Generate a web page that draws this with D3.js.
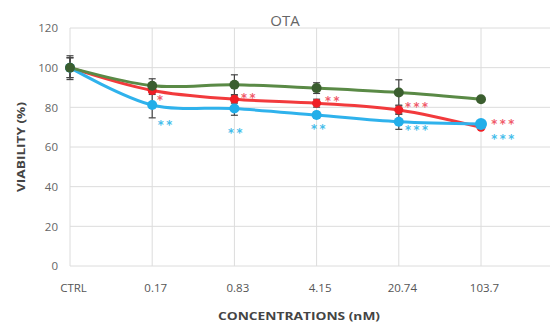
<!DOCTYPE html>
<html>
<head>
<meta charset="utf-8">
<script src="https://cdn.jsdelivr.net/npm/d3@7"></script>
<style>
    html, body { margin: 0; padding: 0; background: #fff; }
    svg { display: block; }
</style>
</head>
<body>
<div id="chart"></div>
<script>
// OTA viability chart
const categories = ['CTRL', '0.17', '0.83', '4.15', '20.74', '103.7'];
const yTicks = [0, 20, 40, 60, 80, 100, 120];

const greenValues = [100, 90.9, 91.4, 89.7, 87.5, 84.1];
const redValues = [100, 88.5, 84.1, 82.1, 78.7, 69.9];
const blueValues = [100, 81.2, 79.4, 76.1, 72.7, 71.6];

const greenErrors = [6, 3.5, 5, 2.7, 6.4, 0];
const redErrors = [5, 2, 2, 2, 2, 0];
const blueErrors = [5, 6.5, 3.4, 1.5, 3.8, 0];

// significance marks: category, stars
const redStars = [['0.17', '*'], ['0.83', '**'], ['4.15', '**'], ['20.74', '***'], ['103.7', '***']];
const blueStars = [['0.17', '**'], ['0.83', '**'], ['4.15', '**'], ['20.74', '***'], ['103.7', '***']];

const width = 550;
const height = 324;

const svg = d3.select('#chart')
    .append('svg')
    .attr('width', width)
    .attr('height', height);

const x = d3.scalePoint().domain(categories).range([70, 481]);
const y = d3.scaleLinear().domain([0, 120]).range([266, 28]);

const font = "'Open Sans', 'Liberation Sans', sans-serif";

// gridlines
svg.append('g')
    .selectAll('line')
    .data(yTicks)
    .enter()
    .append('line')
    .attr('x1', 70).attr('x2', width)
    .attr('y1', d => y(d)).attr('y2', d => y(d))
    .attr('stroke', '#dcdcdc')
    .attr('stroke-width', 1);

svg.append('g')
    .selectAll('line')
    .data(categories)
    .enter()
    .append('line')
    .attr('x1', d => x(d)).attr('x2', d => x(d))
    .attr('y1', y(120)).attr('y2', y(0))
    .attr('stroke', '#dcdcdc')
    .attr('stroke-width', 1);

// y axis labels
const yAxis = d3.axisLeft(y).tickValues(yTicks).tickSize(0).tickPadding(12);
svg.append('g')
    .attr('transform', 'translate(70,0)')
    .call(yAxis)
    .call(g => g.select('.domain').remove())
    .selectAll('text')
    .attr('font-family', font)
    .attr('font-size', '11.5px')
    .attr('fill', '#666');

// x axis labels
const xAxis = d3.axisBottom(x).tickSize(0).tickPadding(18);
svg.append('g')
    .attr('transform', `translate(0,${y(0)})`)
    .call(xAxis)
    .call(g => g.select('.domain').remove())
    .selectAll('text')
    .attr('dx', 3)
    .attr('font-family', font)
    .attr('font-size', '11.5px')
    .attr('fill', '#555');

// titles
svg.append('text')
    .attr('x', 285).attr('y', 26)
    .attr('text-anchor', 'middle')
    .attr('font-family', font)
    .attr('font-size', '15px')
    .attr('fill', '#666')
    .text('OTA');

svg.append('text')
    .attr('x', 299).attr('y', 320)
    .attr('text-anchor', 'middle')
    .attr('font-family', font)
    .attr('font-size', '11px')
    .attr('font-weight', 'bold')
    .attr('fill', '#444')
    .attr('textLength', 162)
    .attr('lengthAdjust', 'spacingAndGlyphs')
    .text('CONCENTRATIONS (nM)');

svg.append('text')
    .attr('transform', 'translate(25,147) rotate(-90)')
    .attr('text-anchor', 'middle')
    .attr('font-family', font)
    .attr('font-size', '10.5px')
    .attr('font-weight', 'bold')
    .attr('fill', '#444')
    .attr('textLength', 90)
    .attr('lengthAdjust', 'spacingAndGlyphs')
    .text('VIABILITY (%)');

// series, drawn red, blue, green
const series = [
    { name: 'red', values: redValues, errors: redErrors, line: '#f23a3c', marker: '#f01e24', r: 4.5 },
    { name: 'blue', values: blueValues, errors: blueErrors, line: '#2fb2ec', marker: '#22aee9', r: 5 },
    { name: 'green', values: greenValues, errors: greenErrors, line: '#5a8a46', marker: '#3b5e2f', r: 5 }
];

const line = d3.line()
    .x((d, i) => x(categories[i]))
    .y(d => y(d))
    .curve(d3.curveCatmullRom.alpha(0.5));

svg.append('g')
    .selectAll('path')
    .data(series)
    .enter()
    .append('path')
    .attr('d', d => line(d.values))
    .attr('fill', 'none')
    .attr('stroke', d => d.line)
    .attr('stroke-width', 3);

// error bars
const errG = svg.append('g');
series.forEach(s => {
    s.values.forEach((v, i) => {
        const e = s.errors[i];
        if (!e) return;
        const cx = x(categories[i]);
        errG.append('line')
            .attr('x1', cx).attr('x2', cx)
            .attr('y1', y(v + e)).attr('y2', y(v - e))
            .attr('stroke', '#444').attr('stroke-width', 1.2);
        [v + e, v - e].forEach(t => {
            errG.append('line')
                .attr('x1', cx - 3.5).attr('x2', cx + 3.5)
                .attr('y1', y(t)).attr('y2', y(t))
                .attr('stroke', '#444').attr('stroke-width', 1.2);
        });
    });
});

// markers
series.forEach(s => {
    svg.append('g')
        .selectAll('circle')
        .data(s.values)
        .enter()
        .append('circle')
        .attr('cx', (d, i) => x(categories[i]))
        .attr('cy', d => y(d))
        .attr('r', (d, i) => (s.name === 'blue' && i === 5) ? 6 : s.r)
        .attr('fill', s.marker);
});

// significance stars, offsets in pixels from the point
const redOffsets = { '0.17': [9, 9], '0.83': [15, -2], '4.15': [17, -3], '20.74': [19, -4], '103.7': [23, -4] };
const blueOffsets = { '0.17': [14, 19], '0.83': [2, 23], '4.15': [3, 13], '20.74': [19, 7], '103.7': [23, 14] };

function drawStars(list, values, offsets, color) {
    svg.append('g')
        .selectAll('text')
        .data(list)
        .enter()
        .append('text')
        .attr('x', d => x(d[0]) + offsets[d[0]][0])
        .attr('y', d => y(values[categories.indexOf(d[0])]) + offsets[d[0]][1] + 5)
        .attr('text-anchor', 'middle')
        .attr('font-family', "'DejaVu Sans', sans-serif")
        .attr('font-size', '11.5px')
        .attr('font-weight', 'bold')
        .attr('letter-spacing', '2.5px')
        .attr('fill', color)
        .text(d => d[1]);
}

drawStars(redStars, redValues, redOffsets, '#f05a6a');
drawStars(blueStars, blueValues, blueOffsets, '#45bdea');
</script>
</body>
</html>
